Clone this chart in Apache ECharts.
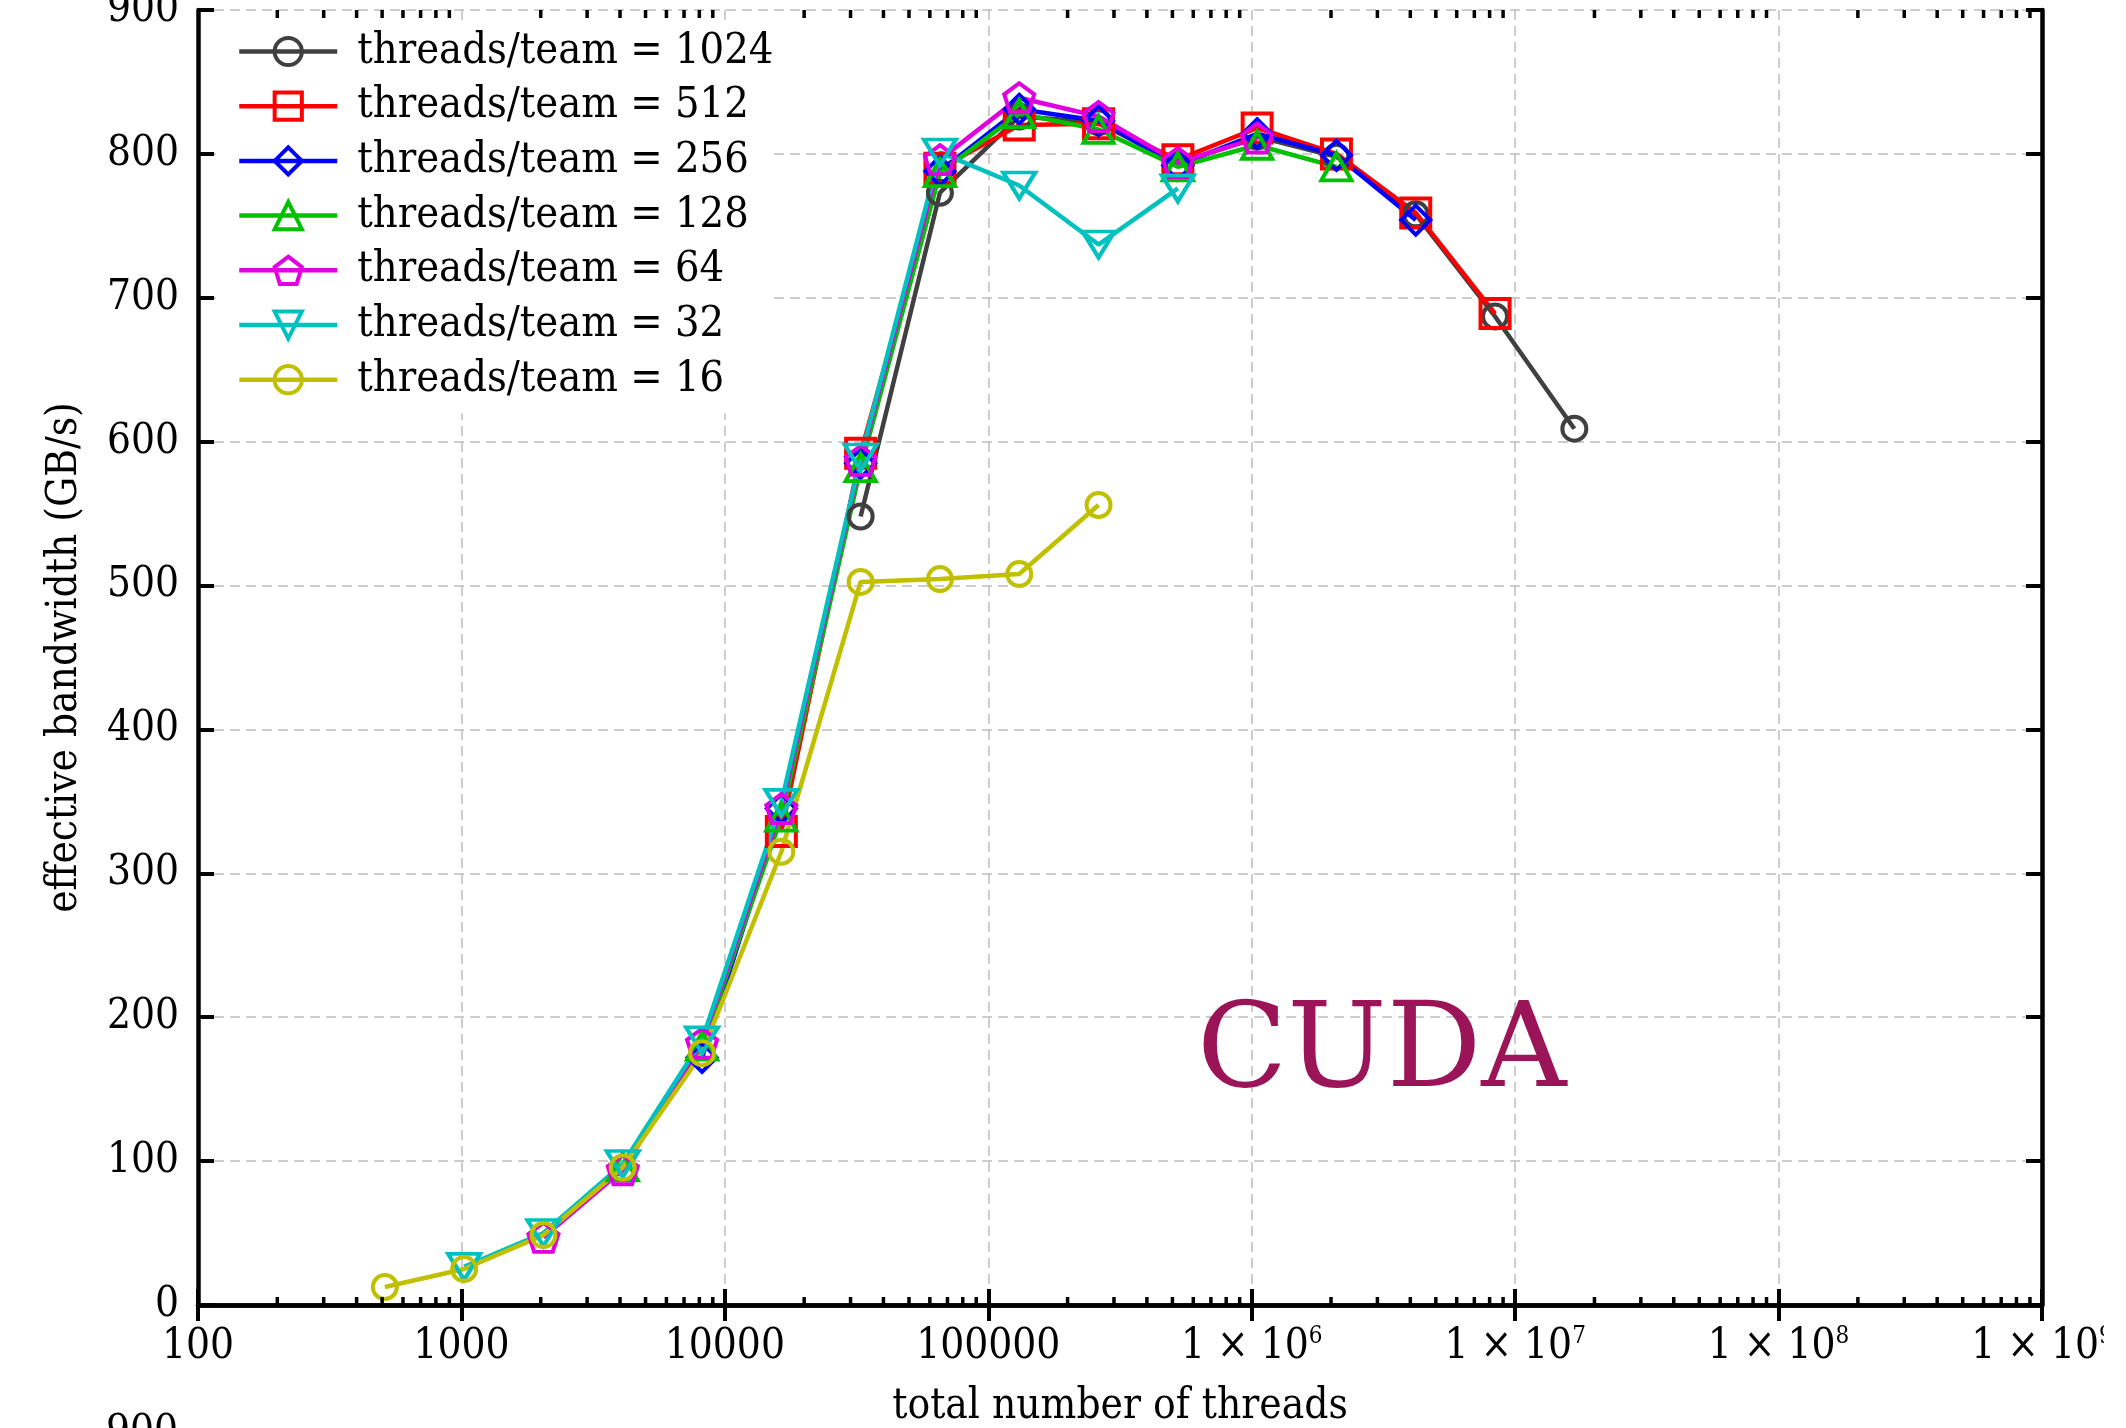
<!DOCTYPE html>
<html>
<head>
<meta charset="utf-8">
<title>CUDA effective bandwidth</title>
<script src="https://cdn.jsdelivr.net/npm/echarts@6/dist/echarts.min.js"></script>
<style>
  html, body { margin: 0; padding: 0; background: #fff; }
  #chart { width: 2104px; height: 1428px; }
</style>
</head>
<body>
<div id="chart"></div>
<script>
// total number of threads (x) and one bandwidth row per threads/team value (null = no point)
const threadCounts = [512, 1024, 2048, 4096, 8192, 16384, 32768, 65536, 131072, 262144,
  524288, 1048576, 2097152, 4194304, 8388608, 16777216]
const teamSizes = [1024, 512, 256, 128, 64, 32, 16]

const bw1024 = [null, null, null, null, null, null, 548, 773, 826, 822, 793, 812, 798, 758, 687, 609]
const bw512 = [null, null, null, null, null, 329, 592, 790, 820, 821, 796, 818, 800, 759, 689, null]
const bw256 = [null, null, null, null, 172, 345, 585, 788, 831, 823, 792, 814, 799, 754, null, null]
const bw128 = [null, null, null, 96, 180, 339, 582, 787, 828, 817, 791, 806, 791, null, null, null]
const bw64 = [null, null, 47, 94, 182, 345, 587, 796, 839, 826, 794, 811, null, null, null, null]
const bw32 = [null, 26.5, 50, 98, 184, 349, 589, 801, 778, 737, 776, null, null, null, null, null]
const bw16 = [12.5, 25, 48.6, 95.5, 175, 315, 502.5, 504.5, 508, 556, null, null, null, null, null, null]
const bandwidth = [bw1024, bw512, bw256, bw128, bw64, bw32, bw16]

// log axis minor ticks (2..9 in every decade)
const minorMantissas = [2, 3, 4, 5, 6, 7, 8, 9]
const decades = [100, 1e3, 1e4, 1e5, 1e6, 1e7, 1e8]

const colors = ['#404040', '#ff0000', '#0000ff', '#00c000', '#e000e0', '#00c0c0', '#c0c000']
const pentagon = 'path://M0,-1L0.951,-0.309L0.588,0.809L-0.588,0.809L-0.951,-0.309Z'
const triangleDown = 'path://M0,0L2,0L1,1.7Z'
const symbols = ['circle', 'rect', 'diamond', 'triangle', pentagon, triangleDown, 'circle']
const symbolSizes = [24, 29, 29, [30, 27], [30, 29], [32, 26], 24]

const font = '"DejaVu Serif Condensed", "DejaVu Serif"'
const names = teamSizes.map(t => 'threads/team = ' + t)

const lineSeries = teamSizes.map((t, i) => ({
  name: names[i],
  type: 'line',
  data: threadCounts.map((x, j) => [x, bandwidth[i][j]]).filter(p => p[1] !== null),
  symbol: symbols[i],
  symbolSize: symbolSizes[i],
  lineStyle: { color: colors[i], width: 4.5 },
  itemStyle: { color: 'rgba(0,0,0,0)', borderColor: colors[i], borderWidth: 4 },
  emphasis: { disabled: true },
  z: 3
}))

const minorTicks = []
decades.forEach(d => minorMantissas.forEach(m => minorTicks.push([d * m, 0])))

const tickSeries = {
  type: 'custom',
  silent: true,
  clip: false,
  z: 5,
  data: minorTicks,
  renderItem: function (params, api) {
    const b = api.coord([api.value(0), 0])
    const t = api.coord([api.value(0), 900])
    const st = { stroke: '#000', lineWidth: 3.5 }
    return {
      type: 'group',
      children: [
        { type: 'line', shape: { x1: b[0], y1: b[1], x2: b[0], y2: b[1] - 8 }, style: st },
        { type: 'line', shape: { x1: t[0], y1: t[1], x2: t[0], y2: t[1] + 8 }, style: st }
      ]
    }
  }
}

const axisLineStyle = { show: true, lineStyle: { color: '#000', width: 4.5 } }
const tickStyle = { show: true, inside: true, length: 16, lineStyle: { color: '#000', width: 4 } }
const gridLine = { show: true, lineStyle: { color: '#bdbdbd', width: 1.5, type: [10, 6] } }

const myChart = echarts.init(document.getElementById('chart'))
const option = {
  animation: false,
  backgroundColor: '#fff',
  grid: { left: 198, right: 62, top: 10, bottom: 123, containLabel: false, outerBoundsMode: 'none' },
  legend: {
    data: names,
    orient: 'vertical',
    left: 216,
    top: 26,
    backgroundColor: '#fff',
    padding: [4, 0, 12, 21],
    itemWidth: 98,
    itemHeight: 34,
    itemGap: 11.7,
    selectedMode: false,
    lineStyle: { width: 4.5 },
    itemStyle: { borderWidth: 4 },
    textStyle: { fontFamily: font, fontSize: 43, color: '#000', padding: [0, 0, 0, 15] }
  },
  xAxis: [
    {
      type: 'log',
      logBase: 10,
      min: 100,
      max: 1e9,
      splitNumber: 7,
      name: 'total number of threads',
      nameLocation: 'middle',
      nameGap: 81,
      nameTextStyle: { fontFamily: font, fontSize: 42, color: '#000' },
      axisLine: axisLineStyle,
      axisTick: tickStyle,
      splitLine: gridLine,
      axisLabel: {
        margin: 20,
        color: '#000',
        fontFamily: font,
        fontSize: 42,
        lineHeight: 44,
        showMaxLabel: true,
        formatter: function (v) {
          const e = Math.round(Math.log10(v))
          if (e < 6) return String(Math.pow(10, e))
          return '{m|1 × 10}{s|' + e + '}'
        },
        rich: {
          m: { fontFamily: font, fontSize: 42, lineHeight: 44, color: '#000' },
          s: { fontFamily: font, fontSize: 24, lineHeight: 30, verticalAlign: 'top', color: '#000' }
        }
      }
    },
    {
      type: 'log',
      logBase: 10,
      position: 'top',
      min: 100,
      max: 1e9,
      splitNumber: 7,
      axisLine: axisLineStyle,
      axisTick: tickStyle,
      axisLabel: { show: false },
      splitLine: { show: false }
    }
  ],
  yAxis: [
    {
      type: 'value',
      min: 0,
      max: 900,
      interval: 100,
      name: 'effective bandwidth (GB/s)',
      nameLocation: 'middle',
      nameRotate: 90,
      nameGap: 112,
      nameTextStyle: { fontFamily: font, fontSize: 42, color: '#000' },
      axisLine: axisLineStyle,
      axisTick: tickStyle,
      splitLine: gridLine,
      axisLabel: { margin: 19, color: '#000', fontFamily: font, fontSize: 42 }
    },
    {
      type: 'value',
      position: 'right',
      min: 0,
      max: 900,
      interval: 100,
      axisLine: axisLineStyle,
      axisTick: tickStyle,
      axisLabel: { show: false },
      splitLine: { show: false }
    }
  ],
  graphic: [
    {
      type: 'text',
      z: 10,
      style: { text: 'CUDA', x: 1197, y: 1055, font: '118px "DejaVu Serif"', fill: '#9b1458', align: 'left', verticalAlign: 'middle' }
    },
    {
      type: 'text',
      z: 10,
      style: { text: '900', x: 178, y: 1433, font: '42px ' + font, fill: '#000', align: 'right', verticalAlign: 'middle' }
    }
  ],
  series: lineSeries.concat([tickSeries])
}
myChart.setOption(option)
</script>
</body>
</html>
